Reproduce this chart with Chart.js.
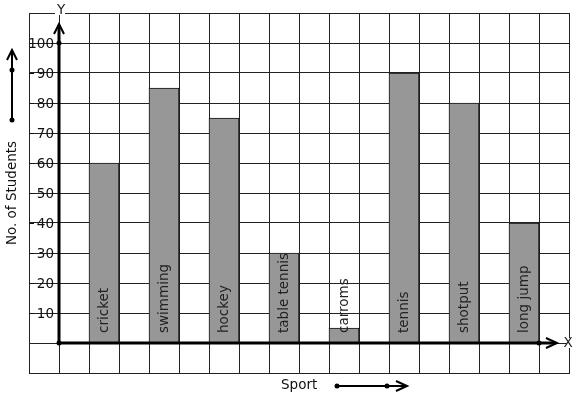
<!DOCTYPE html>
<html>
<head>
<meta charset="utf-8">
<script src="https://cdn.jsdelivr.net/npm/chart.js@4"></script>
<style>
  body { margin: 0; background: #fff; }
  #wrap { width: 577px; height: 399px; }
</style>
</head>
<body>
<div id="wrap"><canvas id="myChart"></canvas></div>
<script>
const sports = ["cricket", "swimming", "hockey", "table tennis", "carroms", "tennis", "shotput", "long jump"];
const students = [60, 85, 75, 30, 5, 90, 80, 40];
const yTicks = [10, 20, 30, 40, 50, 60, 70, 80, 90, 100];
const yTitle = "No. of Students";
const xTitle = "Sport";

// graph paper has 18 columns, sports sit on every second column from the 3rd
const slots = [];
const slotValues = [];
for (let i = 0; i < 18; i++) {
  slots.push("");
  slotValues.push(null);
}
for (let i = 0; i < sports.length; i++) {
  slots[2 + i * 2] = sports[i];
  slotValues[2 + i * 2] = students[i];
}

const ink = "#111";
const font = "13.5px 'DejaVu Sans'";

const dot = (ctx, x, y) => {
  ctx.beginPath();
  ctx.arc(x, y, 2.5, 0, Math.PI * 2);
  ctx.fill();
};

const chevronUp = (ctx, x, y) => {
  ctx.beginPath();
  ctx.moveTo(x - 5, y + 10);
  ctx.lineTo(x, y);
  ctx.lineTo(x + 5, y + 10);
  ctx.stroke();
};

const chevronRight = (ctx, x, y) => {
  ctx.beginPath();
  ctx.moveTo(x - 11, y - 5);
  ctx.lineTo(x, y);
  ctx.lineTo(x - 11, y + 5);
  ctx.stroke();
};

const paperPlugin = {
  id: "paper",
  afterDatasetsDraw(chart) {
    const { ctx, chartArea } = chart;
    const xs = chart.scales.x;
    const ys = chart.scales.y;
    const ox = chartArea.left + 30;
    const oy = ys.getPixelForValue(0);
    ctx.save();
    ctx.strokeStyle = "#000";
    ctx.fillStyle = "#000";
    ctx.lineCap = "butt";

    // sport names inside bars
    ctx.font = font;
    ctx.fillStyle = "#222";
    ctx.textAlign = "left";
    ctx.textBaseline = "middle";
    for (let i = 0; i < slots.length; i++) {
      if (!slots[i]) continue;
      const x = xs.getPixelForValue(i);
      ctx.save();
      ctx.translate(x, oy - 10);
      ctx.rotate(-Math.PI / 2);
      ctx.fillText(slots[i], 0, 0);
      ctx.restore();
    }

    // y tick labels
    ctx.fillStyle = ink;
    ctx.strokeStyle = ink;
    ctx.lineWidth = 1;
    ctx.textAlign = "right";
    for (const v of yTicks) {
      const y = ys.getPixelForValue(v);
      ctx.beginPath();
      ctx.moveTo(chartArea.left, y + 0.5);
      ctx.lineTo(chartArea.left + 5, y + 0.5);
      ctx.stroke();
      ctx.fillText(String(v), ox - 5, y + 1);
    }

    // axes
    ctx.strokeStyle = "#000";
    ctx.fillStyle = "#000";
    ctx.lineWidth = 3;
    const top = ys.getPixelForValue(100);
    ctx.beginPath();
    ctx.moveTo(ox, oy);
    ctx.lineTo(ox, top - 18);
    ctx.stroke();
    ctx.beginPath();
    ctx.moveTo(ox, oy);
    ctx.lineTo(chartArea.right - 13, oy);
    ctx.stroke();
    ctx.lineWidth = 2;
    chevronUp(ctx, ox, top - 19);
    chevronRight(ctx, chartArea.right - 12, oy);
    dot(ctx, ox, oy);
    dot(ctx, ox, top);
    dot(ctx, chartArea.right - 30, oy);

    // axis letters
    ctx.font = font;
    ctx.textAlign = "center";
    ctx.fillStyle = "#fff";
    ctx.fillRect(ox - 4, chartArea.top - 2, 10, 4);
    ctx.fillStyle = "#222";
    ctx.fillText("Y", ox + 2, chartArea.top - 3);
    ctx.fillStyle = "#fff";
    ctx.fillRect(chartArea.right - 2, oy - 5, 4, 10);
    ctx.fillStyle = "#222";
    ctx.fillText("X", chartArea.right - 1, oy);

    // y title with arrow
    ctx.fillStyle = ink;
    ctx.save();
    ctx.translate(12, 193);
    ctx.rotate(-Math.PI / 2);
    ctx.fillText(yTitle, 0, 0);
    ctx.restore();
    ctx.lineWidth = 2;
    ctx.beginPath();
    ctx.moveTo(12, 120);
    ctx.lineTo(12, 52);
    ctx.stroke();
    chevronUp(ctx, 12, 50);
    ctx.fillStyle = "#000";
    dot(ctx, 12, 70);
    dot(ctx, 12, 120);

    // x title with arrow
    ctx.fillStyle = ink;
    ctx.textAlign = "left";
    ctx.fillText(xTitle, 281, 385);
    ctx.beginPath();
    ctx.moveTo(337, 386);
    ctx.lineTo(405, 386);
    ctx.stroke();
    chevronRight(ctx, 407, 386);
    ctx.fillStyle = "#000";
    dot(ctx, 337, 386);
    dot(ctx, 387, 386);
    ctx.restore();
  },
};

const ctx = document.getElementById("myChart");
new Chart(ctx, {
  type: "bar",
  data: {
    labels: slots,
    datasets: [
      {
        label: yTitle,
        data: slotValues,
        backgroundColor: "#979797",
        borderColor: "#111",
        borderWidth: 1,
        barPercentage: 1,
        categoryPercentage: 1,
      },
    ],
  },
  options: {
    responsive: true,
    maintainAspectRatio: false,
    animation: false,
    events: [],
    layout: { padding: { left: 29, top: 13, right: 8, bottom: 26 } },
    plugins: {
      legend: { display: false },
      tooltip: { enabled: false },
    },
    scales: {
      x: {
        offset: true,
        grid: { color: "#222", lineWidth: 1, drawTicks: false, offset: true },
        border: { display: true, color: "#222" },
        ticks: { display: false },
      },
      y: {
        min: -10,
        max: 110,
        grid: { color: "#222", lineWidth: 1, drawTicks: false },
        border: { display: true, color: "#222" },
        ticks: { display: false, stepSize: 10 },
      },
    },
  },
  plugins: [paperPlugin],
});
</script>
</body>
</html>
